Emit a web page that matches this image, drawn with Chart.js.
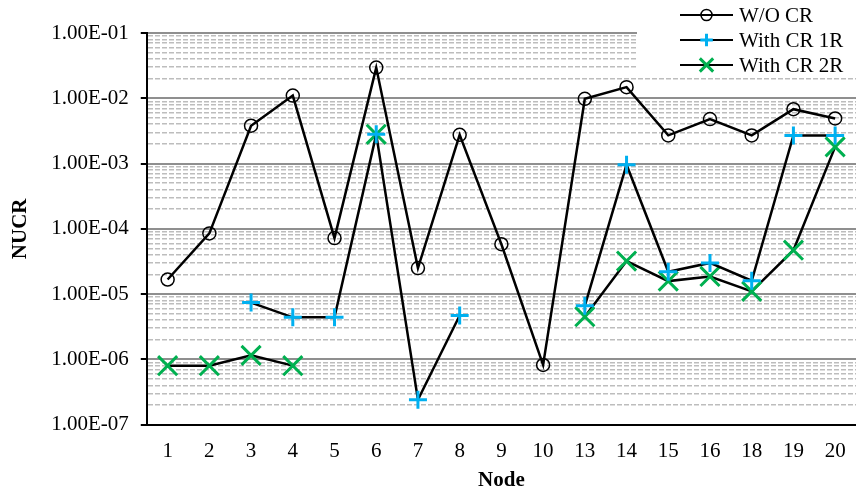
<!DOCTYPE html>
<html><head><meta charset="utf-8">
<script src="https://cdn.jsdelivr.net/npm/chart.js@4/dist/chart.umd.min.js"></script>
<style>html,body{margin:0;padding:0;background:#fff}#wrap{width:856px;height:493px;position:relative}</style>
</head><body><div id="wrap"><canvas id="c"></canvas></div>
<script>
const nodes = ['1','2','3','4','5','6','7','8','9','10','13','14','15','16','18','19','20'];
const seriesNames = ['W/O CR', 'With CR 1R', 'With CR 2R'];
const woCR = [1.67e-5, 8.5e-5, 3.8e-3, 1.1e-2, 7.2e-5, 2.95e-2, 2.5e-5, 2.75e-3, 5.8e-5, 8.2e-7, 9.8e-3, 1.48e-2, 2.7e-3, 4.8e-3, 2.7e-3, 6.8e-3, 4.9e-3];
const cr1R = [null, null, 7.4e-6, 4.4e-6, 4.4e-6, 2.8e-3, 2.4e-7, 4.7e-6, null, null, 6.6e-6, 9.6e-4, 2.2e-5, 3.0e-5, 1.6e-5, 2.7e-3, 2.7e-3];
const cr2R = [8.0e-7, 8.0e-7, 1.15e-6, 8.0e-7, null, 2.8e-3, null, null, null, null, 4.5e-6, 3.2e-5, 1.58e-5, 1.86e-5, 1.1e-5, 4.7e-5, 1.8e-3];
const majorTicks = [1e-7, 1e-6, 1e-5, 1e-4, 1e-3, 1e-2, 1e-1];
const majorLabels = ['1.00E-07', '1.00E-06', '1.00E-05', '1.00E-04', '1.00E-03', '1.00E-02', '1.00E-01'];
const minorMultipliers = [2, 3, 4, 5, 6, 7, 8, 9];

const FONT = '"Liberation Serif", "Times New Roman", serif';
const FS = 21;
const allTicks = [];
majorTicks.forEach((m, i) => {
  allTicks.push({ value: m, major: true, label: majorLabels[i] });
  if (i < majorTicks.length - 1) minorMultipliers.forEach(k => allTicks.push({ value: m * k, major: false, label: '' }));
});

const markerStyles = [
  { pointStyle: 'circle', radius: 6.5, color: '#000000', width: 1.5 },
  { pointStyle: 'cross', radius: 9, color: '#00B0F0', width: 3 },
  { pointStyle: 'crossRot', radius: 13.5, color: '#00B050', width: 3 }
];

function ds(label, data, m) {
  return {
    label, data,
    borderColor: '#000000', borderWidth: 2.5, tension: 0, spanGaps: false,
    pointStyle: m.pointStyle, pointRadius: m.radius, pointHoverRadius: m.radius,
    pointBorderColor: m.color, pointBackgroundColor: 'rgba(0,0,0,0)', pointBorderWidth: m.width,
    fill: false, clip: false
  };
}

function drawMarker(ctx, m, x, y, scale) {
  const r = m.radius * scale;
  ctx.save();
  ctx.strokeStyle = m.color; ctx.lineWidth = m.width; ctx.beginPath();
  if (m.pointStyle === 'circle') { ctx.arc(x, y, r, 0, Math.PI * 2); }
  else if (m.pointStyle === 'cross') { ctx.moveTo(x - r, y); ctx.lineTo(x + r, y); ctx.moveTo(x, y - r); ctx.lineTo(x, y + r); }
  else { const d = r * Math.SQRT1_2; ctx.moveTo(x - d, y - d); ctx.lineTo(x + d, y + d); ctx.moveTo(x - d, y + d); ctx.lineTo(x + d, y - d); }
  ctx.stroke(); ctx.restore();
}

const legendPlugin = {
  id: 'cornerLegend',
  afterDraw(chart) {
    const ctx = chart.ctx;
    ctx.save();
    ctx.fillStyle = '#ffffff';
    ctx.fillRect(637, 0, 230, 74);
    ctx.font = FS + 'px ' + FONT;
    ctx.textBaseline = 'middle';
    ctx.fillStyle = '#000000';
    seriesNames.forEach((name, i) => {
      const y = 15 + i * 25;
      ctx.strokeStyle = '#000'; ctx.lineWidth = 2.2;
      ctx.beginPath(); ctx.moveTo(680, y); ctx.lineTo(733, y); ctx.stroke();
      drawMarker(ctx, markerStyles[i], 706.5, y, i === 0 ? 0.85 : 0.7);
      ctx.fillText(name, 739, y + 1);
    });
    ctx.restore();
  }
};

new Chart(document.getElementById('c'), {
  type: 'line',
  data: {
    labels: nodes,
    datasets: [ds(seriesNames[0], woCR, markerStyles[0]), ds(seriesNames[1], cr1R, markerStyles[1]), ds(seriesNames[2], cr2R, markerStyles[2])]
  },
  options: {
    responsive: true, maintainAspectRatio: false, animation: false,
    layout: { autoPadding: false, padding: { top: 33, left: 8, right: 0, bottom: 0 } },
    plugins: { legend: { display: false }, tooltip: { enabled: false } },
    scales: {
      x: {
        type: 'category', offset: true,
        afterFit(scale) { scale.paddingRight = 0; scale.paddingLeft = 0; },
        grid: { display: false, drawTicks: false },
        border: { display: true, color: '#000', width: 2 },
        ticks: { color: '#000', font: { family: FONT, size: FS }, padding: 14, autoSkip: false, maxRotation: 0 },
        title: { display: true, text: 'Node', color: '#000', font: { family: FONT, size: FS, weight: 'bold' }, padding: { top: -10, bottom: 0 } }
      },
      y: {
        type: 'logarithmic', min: 1e-7, max: 1e-1,
        afterBuildTicks(scale) { scale.ticks = allTicks.map(t => ({ value: t.value, major: t.major })); },
        ticks: {
          color: '#000', font: { family: FONT, size: FS }, padding: 12, autoSkip: false,
          callback(value) { const t = allTicks.find(a => Math.abs(a.value - value) / a.value < 1e-6); return t && t.major ? t.label : ''; }
        },
        grid: {
          color: (c) => (c.tick && c.tick.major) ? '#8f8f8f' : '#bdbdbd',
          lineWidth: (c) => (c.tick && c.tick.major) ? 2 : 1.5,
          drawTicks: true, tickLength: 6,
          tickColor: (c) => (c.tick && c.tick.major) ? '#000' : 'rgba(0,0,0,0)',
          tickWidth: 2
        },
        border: { display: true, color: '#000', width: 2, dash: (c) => (c.tick && !c.tick.major) ? [5, 2] : [] },
        title: { display: true, text: 'NUCR', color: '#000', font: { family: FONT, size: FS, weight: 'bold' }, padding: { top: 0, bottom: 6 } }
      }
    }
  },
  plugins: [legendPlugin]
});
</script>
</body></html>
